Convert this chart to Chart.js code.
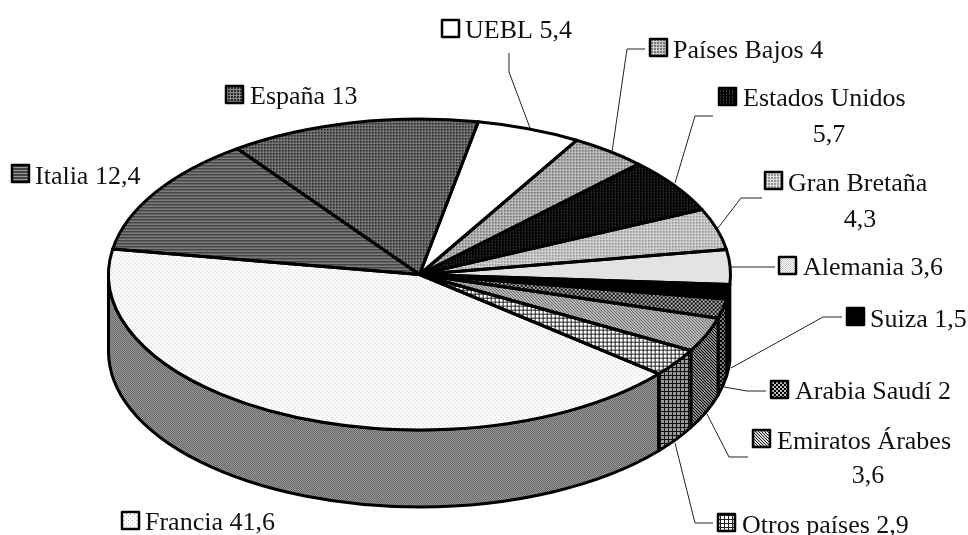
<!DOCTYPE html>
<html>
<head>
<meta charset="utf-8">
<style>
  html, body { margin: 0; padding: 0; background: #fff; }
  canvas { display: block; }
</style>
<script src="https://cdn.jsdelivr.net/npm/chart.js@4"></script>
</head>
<body>
<canvas id="myChart" width="968" height="535"></canvas>
<script>
const categories = ['Francia', 'Italia', 'España', 'UEBL', 'Países Bajos', 'Estados Unidos',
  'Gran Bretaña', 'Alemania', 'Suiza', 'Arabia Saudí', 'Emiratos Árabes', 'Otros países'];
const values = [41.6, 12.4, 13, 5.4, 4, 5.7, 4.3, 3.6, 1.5, 2, 3.6, 2.9];

// ellipse of the pie top and height of the wall
const pieCx = 419.5, pieCy = 274.5, pieRx = 311, pieRy = 155.5, pieDepth = 77;

// key box, text start and baseline for each label, second line is centred on x2
const labelBoxes = [
  { key: [122, 512], x: 145, y: 530 },
  { key: [12, 165], x: 35, y: 184 },
  { key: [226, 86], x: 250, y: 104 },
  { key: [442, 20], x: 465, y: 38 },
  { key: [650, 39], x: 673, y: 58 },
  { key: [719, 88], x: 743, y: 106, x2: 829, y2: 142 },
  { key: [765, 172], x: 788, y: 191, x2: 860, y2: 227 },
  { key: [779, 257], x: 803, y: 275 },
  { key: [847, 308], x: 870, y: 327 },
  { key: [771, 381], x: 795, y: 399 },
  { key: [753, 430], x: 777, y: 449, x2: 868, y2: 483 },
  { key: [718, 514], x: 742, y: 533 }
];

const leaders = [
  [[509, 53], [509, 72], [530, 128]],
  [[645, 49], [627, 49], [612, 152]],
  [[713, 116], [695, 116], [675, 183]],
  [[762, 198], [741, 198], [718, 228]],
  [[775, 267], [731, 267]],
  [[842, 317], [823, 317], [731, 368]],
  [[766, 391], [747, 391], [724, 387]],
  [[748, 457], [729, 457], [707, 414]],
  [[713, 523], [695, 523], [675, 443]]
];

const makePattern = (rows, fg, bg) => {
  const c = document.createElement('canvas');
  c.width = rows[0].length;
  c.height = rows.length;
  const g = c.getContext('2d');
  g.fillStyle = bg;
  g.fillRect(0, 0, c.width, c.height);
  g.fillStyle = fg;
  rows.forEach((row, y) => {
    [...row].forEach((ch, x) => {
      if (ch === '#') g.fillRect(x, y, 1, 1);
    });
  });
  return g.createPattern(c, 'repeat');
};

const checker = ['#.', '.#'];
const sparse = ['#...', '....', '..#.', '....'];
const diag = ['#..', '.#.', '..#'];
const dots = ['##.', '##.', '...'];
const squares = ['##..', '##..', '..##', '..##'];
const grid = ['#...', '#...', '#...', '####'];

const topFills = [
  makePattern(sparse, '#bbb', '#fff'),
  makePattern(['#', '#', '.'], '#444', '#999'),
  makePattern(dots, '#2a2a2a', '#888'),
  '#ffffff',
  makePattern(dots, '#777', '#ccc'),
  makePattern(['.##', '.##', '###'], '#000', '#404040'),
  makePattern(dots, '#999', '#ddd'),
  makePattern(checker, '#c8c8c8', '#fff'),
  '#000000',
  makePattern(squares, '#000', '#bbb'),
  makePattern(diag, '#222', '#ddd'),
  makePattern(grid, '#222', '#fff')
];

const wallFills = [
  makePattern(checker, '#666', '#999'),
  null, null, null, null, null, null, null,
  '#000000',
  makePattern(squares, '#000', '#777'),
  makePattern(diag, '#000', '#888'),
  makePattern(grid, '#111', '#999')
];

// pie elements keep their own angles, the wall and outlines are traced on the ellipse
const tiltPlugin = {
  id: 'tilt',
  beforeDatasetsDraw(chart) {
    const { ctx } = chart;
    const arcs = chart.getDatasetMeta(0).data;
    const sx = pieRx / arcs[0].outerRadius;
    const sy = pieRy / arcs[0].outerRadius;

    arcs.forEach((arc, i) => {
      if (!wallFills[i]) return;
      [0, Math.PI * 2].forEach((turn) => {
        const s = Math.max(arc.startAngle, turn);
        const e = Math.min(arc.endAngle, turn + Math.PI);
        if (e <= s) return;
        ctx.beginPath();
        ctx.ellipse(pieCx, pieCy, pieRx, pieRy, 0, s, e);
        ctx.ellipse(pieCx, pieCy + pieDepth, pieRx, pieRy, 0, e, s, true);
        ctx.closePath();
        ctx.fillStyle = wallFills[i];
        ctx.fill();
        ctx.lineWidth = 3;
        ctx.lineJoin = 'round';
        ctx.strokeStyle = '#000';
        ctx.stroke();
      });
    });

    // undo the tilt on the fills so the dots stay one pixel wide
    topFills.forEach((f) => {
      if (f instanceof CanvasPattern) f.setTransform(new DOMMatrix().scale(1 / sx, 1 / sy));
    });
    ctx.save();
    ctx.translate(pieCx, pieCy);
    ctx.scale(sx, sy);
    ctx.translate(-arcs[0].x, -arcs[0].y);
  },
  afterDatasetsDraw(chart) {
    const { ctx } = chart;
    ctx.restore();
    chart.getDatasetMeta(0).data.forEach((arc) => {
      ctx.beginPath();
      ctx.moveTo(pieCx, pieCy);
      ctx.ellipse(pieCx, pieCy, pieRx, pieRy, 0, arc.startAngle, arc.endAngle);
      ctx.closePath();
      ctx.lineWidth = 3;
      ctx.lineJoin = 'round';
      ctx.strokeStyle = '#000';
      ctx.stroke();
    });
  },
  afterDraw(chart) {
    const { ctx } = chart;
    ctx.save();
    ctx.strokeStyle = '#222';
    ctx.lineWidth = 1;
    leaders.forEach((pts) => {
      ctx.beginPath();
      pts.forEach((p, i) => (i ? ctx.lineTo(p[0], p[1]) : ctx.moveTo(p[0], p[1])));
      ctx.stroke();
    });

    ctx.font = '26px "Liberation Serif"';
    ctx.textBaseline = 'alphabetic';
    categories.forEach((name, i) => {
      const box = labelBoxes[i];
      const num = String(values[i]).replace('.', ',');
      if (topFills[i] instanceof CanvasPattern) topFills[i].setTransform(new DOMMatrix());
      ctx.fillStyle = topFills[i];
      ctx.fillRect(box.key[0], box.key[1], 17, 17);
      ctx.lineWidth = 2.5;
      ctx.strokeStyle = '#000';
      ctx.strokeRect(box.key[0], box.key[1], 17, 17);
      ctx.fillStyle = '#111';
      ctx.textAlign = 'left';
      if (box.x2) {
        ctx.fillText(name, box.x, box.y);
        ctx.textAlign = 'center';
        ctx.fillText(num, box.x2, box.y2);
      } else {
        ctx.fillText(name + ' ' + num, box.x, box.y);
      }
    });
    ctx.restore();
  }
};

new Chart(document.getElementById('myChart'), {
  type: 'pie',
  data: {
    labels: categories,
    datasets: [{
      data: values,
      backgroundColor: topFills,
      borderWidth: 0
    }]
  },
  options: {
    responsive: false,
    animation: false,
    rotation: 129.7,
    layout: { padding: { right: 129, top: 14 } },
    plugins: {
      legend: { display: false },
      tooltip: { enabled: false }
    }
  },
  plugins: [tiltPlugin]
});
</script>
</body>
</html>
